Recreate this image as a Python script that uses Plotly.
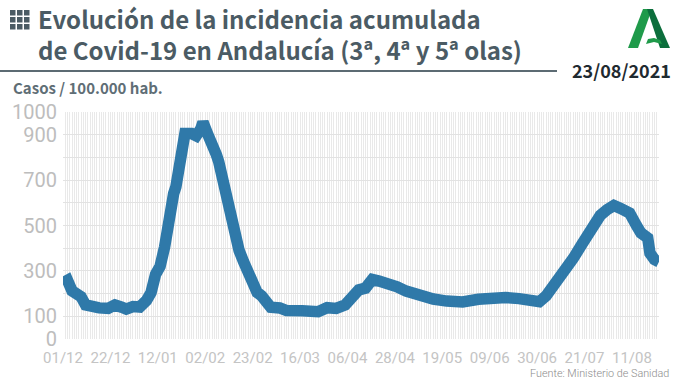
import plotly.graph_objects as go

W, H = 680, 382
L, R, T, B = 63, 659, 112, 339

day_index = [0, 2, 4, 6, 8, 10, 12, 16, 20, 23, 26, 28, 31, 34, 37, 39, 41, 43, 45, 47, 49, 50, 51, 53, 54, 57, 59, 61, 62, 64, 66,
             68, 69, 71, 73, 76, 78, 80, 82, 86, 88, 90, 92, 96, 99, 106, 113, 117, 121, 125, 128, 131, 134, 137, 140, 144, 148, 152,
             158, 164, 170, 177, 184, 190, 196, 202, 208, 211, 214, 217, 221, 226, 230, 233, 238, 241, 244, 247, 251, 254, 256,
             259, 260, 262, 264]
casos = [247, 258, 212, 200, 186, 150, 142, 137, 135, 150, 140, 132, 143, 141, 170, 205, 285, 320, 405, 548, 640, 670, 730, 860, 905,
         905, 895, 925, 955, 905, 870, 810, 780, 690, 590, 495, 390, 340, 285, 205, 190, 160, 140, 137, 125, 124, 120, 138, 135, 150,
         185, 216, 224, 262, 255, 245, 230, 211, 188, 176, 167, 163, 175, 185, 183, 178, 165, 164, 190, 229, 290, 355, 420, 470, 545,
         570, 588, 575, 555, 500, 467, 445, 378, 350, 340]
x_tick_pos = [0, 21, 42, 63, 84, 105, 126, 147, 168, 189, 210, 231, 252]
x_tick_labels = ["01/12", "22/12", "12/01", "02/02", "23/02", "16/03", "06/04", "28/04", "19/05", "09/06", "30/06", "21/07", "11/08"]
y_ticks = [0, 100, 300, 500, 700, 900, 1000]
title_lines = ["Evolución de la incidencia acumulada", "de Covid-19 en Andalucía (3ª, 4ª y 5ª olas)"]

def px(x): return (x - L) / (R - L)
def py(y): return (B - y) / (B - T)

fig = go.Figure(go.Scatter(x=day_index, y=casos, mode="lines",
                           line=dict(color="#2f79a9", width=11.5, shape="linear"), hoverinfo="skip"))

fig.update_layout(
    width=W, height=H, autosize=False, showlegend=False,
    paper_bgcolor="white", plot_bgcolor="white",
    margin=dict(l=L, r=W - R, t=T, b=H - B, pad=0),
    xaxis=dict(range=[0, 264], tickmode="array", tickvals=x_tick_pos, ticktext=x_tick_labels,
               showgrid=True, gridcolor="#e9e9e9", gridwidth=1, zeroline=False, showline=False, ticks="",
               tickfont=dict(family="Roboto", size=15, color="#c4c4c4"), tickangle=0, ticklabelstandoff=8,
               minor=dict(dtick=1, tick0=0, showgrid=True, gridcolor="#e9e9e9", gridwidth=1)),
    yaxis=dict(range=[0, 1000], tickmode="array", tickvals=y_ticks,
               showgrid=True, gridcolor="#e2e2e2", gridwidth=1, zeroline=False, showline=False, ticks="",
               tickfont=dict(family="Roboto", size=20, color="#bdbdbd"), ticklabelstandoff=5,
               minor=dict(dtick=100, tick0=0, showgrid=True, gridcolor="#e2e2e2", gridwidth=1)),
)

def text(x, y, s, size, color, family="Noto Sans CJK SC", weight=400, anchor="left"):
    fig.add_annotation(xref="paper", yref="paper", x=px(x), y=py(y), text=s, showarrow=False,
                       xanchor=anchor, yanchor="middle", xshift=0, yshift=0, borderpad=0,
                       font=dict(family=family, size=size, color=color, weight=weight))

TITLE = "#4b5b64"
text(37, 19, title_lines[0], 24, TITLE, weight=700)
text(37, 49, title_lines[1], 24, TITLE, weight=700)
text(12, 87, "Casos / 100.000 hab.", 15, "#5f6e76", weight=700)
text(672, 70, "23/08/2021", 18, "#1f2a30", weight=700, anchor="right")
text(670, 373, "Fuente: Ministerio de Sanidad", 10.8, "#8c8c8c", family="Roboto", weight=300, anchor="right")

def rect(x0, y0, x1, y1, color):
    fig.add_shape(type="rect", xref="paper", yref="paper", x0=px(x0), x1=px(x1), y0=py(y0), y1=py(y1),
                  fillcolor=color, line=dict(width=0), layer="above")

rect(0, 70, 557, 72, "#5c6b73")
for row in range(3):
    for col in range(3):
        rect(10 + col * 7, 10 + row * 7, 15.5 + col * 7, 15.5 + row * 7, TITLE)

def poly(points, color):
    d = "M " + " L ".join(f"{px(a):.5f} {py(b):.5f}" for a, b in points) + " Z"
    fig.add_shape(type="path", xref="paper", yref="paper", path=d, fillcolor=color, line=dict(width=0), layer="above")

poly([(643, 9), (652, 9), (638, 48), (628, 48)], "#1f9a4a")
poly([(647, 9), (653, 9), (670, 48), (660, 48)], "#0c6e3c")
poly([(646, 44), (648, 39), (654, 38), (660, 40), (662, 44), (654, 42)], "#1f9a4a")

fig.write_html("out.html", post_script="document.body.style.margin='0';", config={"displayModeBar": False})
